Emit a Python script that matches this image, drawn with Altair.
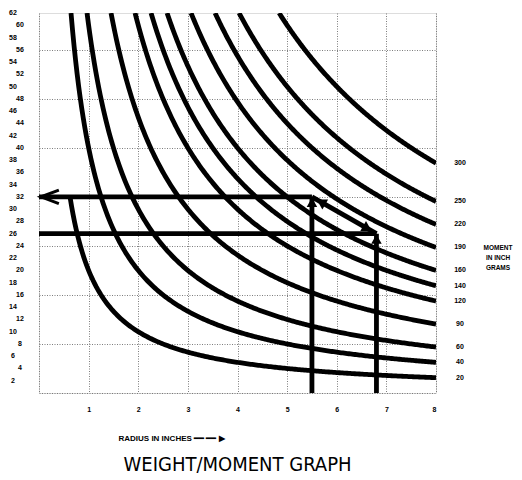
import altair as alt
import pandas as pd
import numpy as np

# ---- data ----
moments = [20, 40, 60, 90, 120, 140, 160, 190, 220, 250, 300]   # inch-grams
curve_top_weight = [32, 62, 62, 62, 62, 62, 62, 62, 62, 62, 62]  # where each curve starts (top)
y_tick_values = list(range(2, 63, 2))
x_tick_values = [1, 2, 3, 4, 5, 6, 7, 8]
arrow_radius = [5.5, 6.8]     # inches
arrow_weight = [32, 26]       # grams
radius_max = 8

# ---- tables ----
rows = []
for m, top in zip(moments, curve_top_weight):
    for r in np.linspace(m / top, radius_max, 240):
        rows.append({"moment": m, "radius": r, "weight": m / r})
curves_df = pd.DataFrame(rows)

r1, r2 = arrow_radius
w1, w2 = arrow_weight
segments_df = pd.DataFrame({
    "x": [r1, 0.0, r1, r2, r1],
    "y": [w1, w2, 0.0, 0.0, w1],
    "x2": [0.0, r2, r1, r2, r2],
    "y2": [w1, w2, w1, w2, w2],
})
heads_up_df = pd.DataFrame({"x": [r1, r2], "y": [w1 - 0.9, w2 - 0.9]})
f = 0.14
diag_df = pd.DataFrame({
    "x": [r1 + f * (r2 - r1), r2 - f * (r2 - r1)],
    "y": [w1 + f * (w2 - w1), w2 - f * (w2 - w1)],
    "shape": ["triangle-left", "triangle-right"],
})
left_head_df = pd.DataFrame({"x": [0.22], "y": [w1]})

ylab = pd.DataFrame({"v": y_tick_values})
ylab["grp"] = np.where(ylab["v"] % 4 == 2, "a", "b")
mom_df = pd.DataFrame({"moment": moments})

W, H = 397, 380
xs = alt.Scale(domain=[0, radius_max], nice=False, zero=False)
ys = alt.Scale(domain=[0, 62], nice=False, zero=False)
FONT = "Liberation Sans"

grid_x = [i * 0.25 for i in range(0, 33)]
grid_y = list(range(0, 63, 2))

x_axis = alt.Axis(
    values=grid_x,
    labelExpr="datum.value % 1 == 0 && datum.value > 0 ? datum.label : ''",
    labelOverlap=False,
    grid=True, gridColor="#6e6e6e", gridDash=[1, 1.5], gridWidth=0.9,
    domain=False, ticks=False,
    labelFont=FONT, labelFontWeight="bold", labelFontSize=7, labelColor="black",
    labelPadding=12,
    title="RADIUS IN INCHES  ━━  ━━ ▶",
    titleFont=FONT, titleFontWeight="bold", titleFontSize=8, titleColor="black",
    titleX=79, titleY=45, titleAlign="left", titleBaseline="middle", titleAnchor="start",
)
y_axis = alt.Axis(
    values=grid_y, labels=False, grid=True, gridColor="#6e6e6e", gridDash=[1, 1.5],
    gridWidth=0.9, domain=False, ticks=False, title=None,
)

curves = alt.Chart(curves_df).mark_line(color="black", strokeWidth=4.8, clip=True).encode(
    x=alt.X("radius:Q", scale=xs, axis=x_axis),
    y=alt.Y("weight:Q", scale=ys, axis=y_axis),
    detail="moment:N",
    order="radius:Q",
)

segs = alt.Chart(segments_df).mark_rule(color="black", strokeWidth=4.8).encode(
    x=alt.X("x:Q", scale=xs), y=alt.Y("y:Q", scale=ys), x2="x2:Q", y2="y2:Q"
)

heads_up = alt.Chart(heads_up_df).mark_point(
    shape="triangle-up", filled=True, size=110, color="black", opacity=1
).encode(x=alt.X("x:Q", scale=xs), y=alt.Y("y:Q", scale=ys))

diag_heads = alt.Chart(diag_df).mark_point(
    filled=True, size=130, color="black", opacity=1, angle=30
).encode(
    x=alt.X("x:Q", scale=xs), y=alt.Y("y:Q", scale=ys),
    shape=alt.Shape("shape:N", scale=None),
)

left_head = alt.Chart(left_head_df).mark_point(
    shape="M 1 -0.75 L -1 0 L 1 0.75", filled=False, size=320, color="black",
    strokeWidth=3, opacity=1
).encode(x=alt.X("x:Q", scale=xs), y=alt.Y("y:Q", scale=ys))

ylab_a = alt.Chart(ylab).transform_filter("datum.grp == 'a'").mark_text(
    font=FONT, fontWeight="bold", fontSize=7, color="black", align="center", dx=-26
).encode(x=alt.datum(0, scale=xs), y=alt.Y("v:Q", scale=ys), text="v:Q")
ylab_b = alt.Chart(ylab).transform_filter("datum.grp == 'b'").mark_text(
    font=FONT, fontWeight="bold", fontSize=7, color="black", align="center", dx=-19
).encode(x=alt.datum(0, scale=xs), y=alt.Y("v:Q", scale=ys), text="v:Q")

mom_labels = alt.Chart(mom_df).transform_calculate(end=f"datum.moment / {radius_max}").mark_text(
    font=FONT, fontWeight="bold", fontSize=7, color="black", align="center", dx=24
).encode(x=alt.datum(radius_max, scale=xs), y=alt.Y("end:Q", scale=ys), text="moment:Q")

side_title = alt.Chart(mom_df).transform_filter("datum.moment == 190").transform_calculate(
    end=f"datum.moment / {radius_max}"
).mark_text(
    font=FONT, fontWeight="bold", fontSize=6.5, color="black", align="center",
    baseline="middle", dx=62, dy=1, lineHeight=10,
    text=["MOMENT", "IN INCH", "GRAMS"],
).encode(x=alt.datum(radius_max, scale=xs), y=alt.Y("end:Q", scale=ys))

chart = alt.layer(
    curves, segs, heads_up, diag_heads, left_head, ylab_a, ylab_b, mom_labels, side_title
).properties(
    width=W, height=H,
    autosize=alt.AutoSizeParams(type="none"),
    padding={"left": 31, "top": 5, "right": 78, "bottom": 87},
    title=alt.TitleParams(
        "WEIGHT/MOMENT GRAPH", orient="bottom", anchor="middle",
        font="'Liberation Sans Narrow', 'DejaVu Sans Condensed', Roboto, 'Liberation Sans', sans-serif",
        fontSize=20, fontWeight="normal",
        color="black", offset=13,
    ),
).configure_view(stroke=None).configure(background="white")

chart.save("out.html", embed_options={"renderer": "svg", "actions": False})
